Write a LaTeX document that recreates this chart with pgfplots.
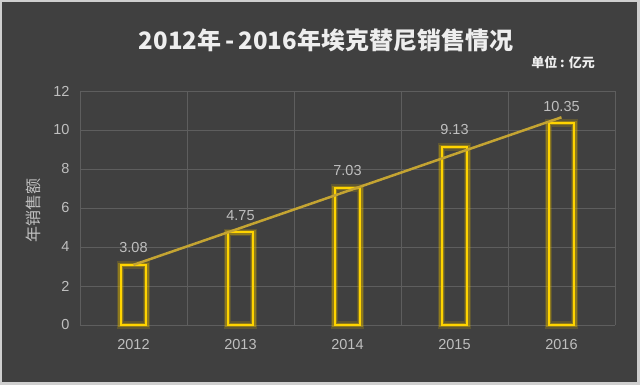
\documentclass[border=0pt]{standalone}
\usepackage{fontspec}
\usepackage{pgfplots}
\pgfplotsset{compat=1.18}
\setmainfont{Liberation Sans}
\newfontfamily\cjk{Noto Sans CJK SC}
\definecolor{bg}{HTML}{404040}
\definecolor{frame}{HTML}{CFCFCF}
\definecolor{gridc}{HTML}{5E5E5E}
\definecolor{tickc}{HTML}{BFBFBF}
\definecolor{bary}{HTML}{FFD400}
\definecolor{glowy}{HTML}{D8B000}
\definecolor{trend}{HTML}{C4A432}
\definecolor{titlec}{HTML}{EEEEEE}
\pgfplotsset{/pgf/number format/assume math mode=true}
\begin{document}
\begin{tikzpicture}[x=1pt,y=1pt]
\fill[frame] (0,0) rectangle (640,385);
\fill[bg] (2,3) rectangle (637,383);
\begin{axis}[
  at={(80pt,60pt)}, anchor=south west,
  scale only axis, width=535pt, height=234pt,
  xmin=-0.5, xmax=4.5, ymin=0, ymax=12,
  xtick={0,1,2,3,4},
  xticklabels={2012,2013,2014,2015,2016},
  minor xtick={-0.5,0.5,1.5,2.5,3.5,4.5},
  ytick={0,2,4,6,8,10,12},
  xminorgrids=true, ymajorgrids=true, xmajorgrids=false,
  grid style={draw=gridc, line width=0.8pt},
  minor grid style={draw=gridc, line width=0.8pt},
  axis line style={draw=none},
  major tick length=0pt, minor tick length=0pt,
  tick label style={color=tickc, font=\fontsize{14.5}{16}\selectfont},
  xticklabel style={anchor=base, yshift=-25pt},
  yticklabel style={xshift=-7pt},
  clip=false,
]
\addplot[ybar, bar shift=0pt, bar width=0.24, draw=glowy, draw opacity=0.2, line width=7.5pt, fill=none]
  coordinates {(0,3.08) (1,4.75) (2,7.03) (3,9.13) (4,10.35)};
\addplot[ybar, bar shift=0pt, bar width=0.24, draw=glowy, draw opacity=0.4, line width=4.5pt, fill=none]
  coordinates {(0,3.08) (1,4.75) (2,7.03) (3,9.13) (4,10.35)};
\addplot[ybar, bar shift=0pt, bar width=0.24, draw=bary, line width=2pt, fill=none,
  nodes near coords,
  nodes near coords style={anchor=base, yshift=12pt, color=tickc, font=\fontsize{14.5}{16}\selectfont}]
  coordinates {(0,3.08) (1,4.75) (2,7.03) (3,9.13) (4,10.35)};
\addplot[trend, line width=2.5pt, mark=none] coordinates {(0,3.084) (4,10.652)};
\end{axis}
\node[color=titlec, font=\cjk\bfseries\fontsize{24}{26}\selectfont] at (326,345) {2012年\,-\,2016年埃克替尼销售情况};
\node[color=titlec, font=\cjk\bfseries\fontsize{13}{15}\selectfont] at (563,323) {单位 : 亿元};
\node[color=tickc, rotate=90, font=\cjk\fontsize{16}{18}\selectfont] at (33,174) {年销售额};
\end{tikzpicture}
\end{document}
